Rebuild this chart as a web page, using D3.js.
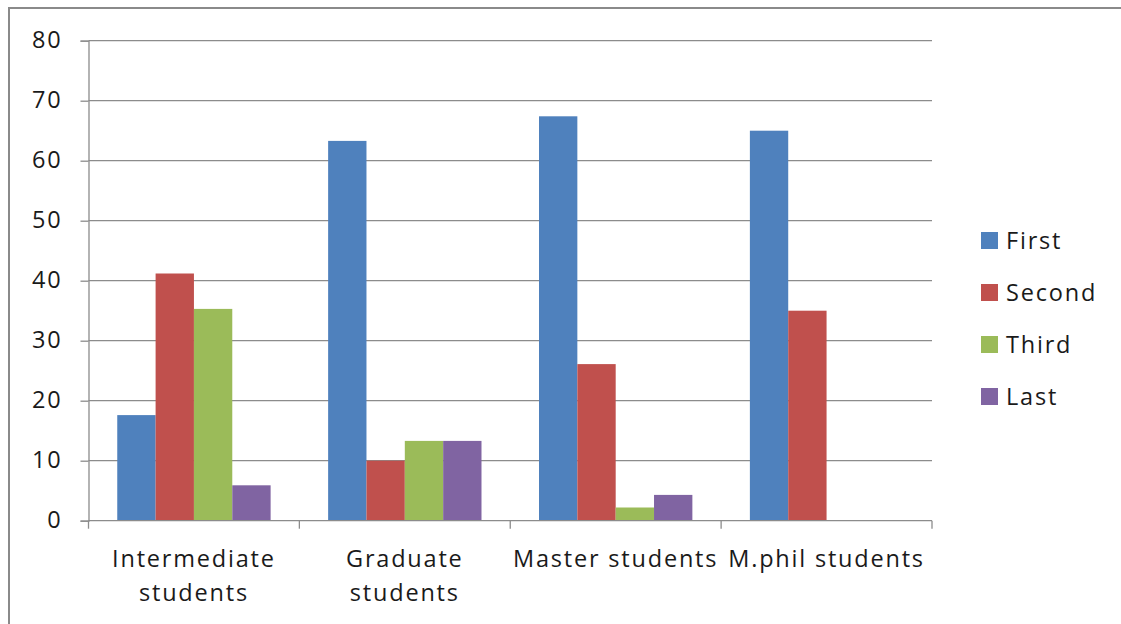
<!DOCTYPE html>
<html>
<head>
<meta charset="utf-8">
<script src="https://cdn.jsdelivr.net/npm/d3@7"></script>
<style>
  html, body { margin: 0; padding: 0; background: #fff; }
  svg { display: block; }
  text { font-family: "Open Sans", Lato, sans-serif; fill: #1a1a1a; letter-spacing: 1.8px; }
</style>
</head>
<body>
<svg id="chart" width="1121" height="624"></svg>
<script>
// Student groups along the x axis (each label may wrap onto two lines)
const categories = [
  ["Intermediate", "students"],
  ["Graduate", "students"],
  ["Master students"],
  ["M.phil students"]
];
const seriesNames = ["First", "Second", "Third", "Last"];
const seriesColors = ["#4F81BD", "#C0504D", "#9BBB59", "#8064A2"];

// Percentage values, one array per series, in category order
const firstValues  = [17.6, 63.3, 67.4, 65.0];
const secondValues = [41.2, 10.0, 26.1, 35.0];
const thirdValues  = [35.3, 13.3, 2.2, 0];
const lastValues   = [5.9, 13.3, 4.3, 0];

const yTicks = [0, 10, 20, 30, 40, 50, 60, 70, 80];

const seriesValues = [firstValues, secondValues, thirdValues, lastValues];

const svg = d3.select("#chart");

// Outer chart frame (top and left edges)
svg.append("line").attr("x1", 9).attr("x2", 1121).attr("y1", 8).attr("y2", 8)
  .attr("stroke", "#8a8a8a").attr("stroke-width", 2);
svg.append("line").attr("x1", 9).attr("x2", 9).attr("y1", 7).attr("y2", 624)
  .attr("stroke", "#8a8a8a").attr("stroke-width", 2);

const plot = { left: 88.5, right: 932, top: 40.7, bottom: 520.7 };

const x = d3.scaleBand()
  .domain(d3.range(categories.length))
  .range([plot.left, plot.right])
  .paddingInner(0).paddingOuter(0);

// Bars within a category: 4 bars plus a 150% gap
const inner = d3.scaleBand()
  .domain(d3.range(seriesNames.length))
  .range([0, x.bandwidth()])
  .paddingInner(0)
  .paddingOuter(0.75);

const y = d3.scaleLinear().domain([0, 80]).range([plot.bottom, plot.top]);

const gridColor = "#8c8c8c";
const fontSize = 23.5;

// Horizontal gridlines
svg.append("g").selectAll("line")
  .data(yTicks.filter(d => d > 0))
  .join("line")
  .attr("x1", plot.left).attr("x2", plot.right)
  .attr("y1", d => y(d)).attr("y2", d => y(d))
  .attr("stroke", gridColor).attr("stroke-width", 1.3);

// Bars
seriesValues.forEach((vals, si) => {
  svg.append("g").selectAll("rect")
    .data(vals)
    .join("rect")
    .attr("x", (d, ci) => x(ci) + inner(si))
    .attr("width", inner.bandwidth())
    .attr("y", d => y(d))
    .attr("height", d => y(0) - y(d))
    .attr("fill", seriesColors[si]);
});

// Y axis
const yAxis = d3.axisLeft(y).tickValues(yTicks).tickSize(8).tickPadding(18)
  .tickFormat(d3.format("d"));
const gy = svg.append("g").attr("transform", `translate(${plot.left},0)`).call(yAxis);
gy.select(".domain").attr("stroke", gridColor).attr("stroke-width", 1.3);
gy.selectAll(".tick line").attr("stroke", gridColor).attr("stroke-width", 1.3);
gy.selectAll(".tick text")
  .attr("font-size", fontSize).attr("fill", "#1a1a1a")
  .style("font-family", "'Open Sans', sans-serif")
  .attr("dy", "0.3em");

// X axis: tick marks at category boundaries
const boundaries = d3.range(categories.length + 1).map(i =>
  i < categories.length ? x(i) : x(i - 1) + x.bandwidth());
svg.append("line")
  .attr("x1", plot.left).attr("x2", plot.right)
  .attr("y1", plot.bottom).attr("y2", plot.bottom)
  .attr("stroke", gridColor).attr("stroke-width", 1.3);
svg.append("g").selectAll("line")
  .data(boundaries)
  .join("line")
  .attr("x1", d => d).attr("x2", d => d)
  .attr("y1", plot.bottom).attr("y2", plot.bottom + 8)
  .attr("stroke", gridColor).attr("stroke-width", 1.3);

// Category labels
const labels = svg.append("g").selectAll("text")
  .data(categories)
  .join("text")
  .attr("x", (d, i) => x(i) + x.bandwidth() / 2)
  .attr("y", 567)
  .attr("text-anchor", "middle")
  .attr("font-size", fontSize);
labels.selectAll("tspan")
  .data(d => d)
  .join("tspan")
  .attr("x", function () { return d3.select(this.parentNode).attr("x"); })
  .attr("dy", (d, i) => i === 0 ? 0 : 34)
  .text(d => d);

// Legend
const legend = svg.append("g").selectAll("g")
  .data(seriesNames)
  .join("g")
  .attr("transform", (d, i) => `translate(981, ${232 + i * 52})`);
legend.append("rect")
  .attr("width", 17).attr("height", 17)
  .attr("fill", (d, i) => seriesColors[i]);
legend.append("text")
  .attr("x", 25).attr("y", 17)
  .attr("font-size", fontSize)
  .text(d => d);
</script>
</body>
</html>
